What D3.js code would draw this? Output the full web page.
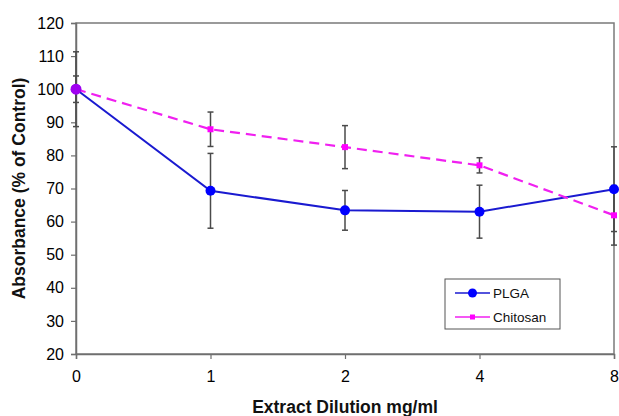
<!DOCTYPE html>
<html>
<head>
<meta charset="utf-8">
<script src="https://cdn.jsdelivr.net/npm/d3@7"></script>
<style>
  body { margin: 0; background: #fff; }
  svg { font-family: "Liberation Sans", Arial, sans-serif; }
</style>
</head>
<body>
<div id="chart"></div>
<script>
var doses = ["0", "1", "2", "4", "8"];
var plga = [100, 69.3, 63.4, 63.0, 69.8];
var plgaErr = [11.3, 11.3, 6.0, 8.0, 12.8];
var chitosan = [100, 87.9, 82.5, 77.0, 61.9];
var chitosanErr = [4.0, 5.2, 6.5, 2.3, 9.0];
var yTicks = [20, 30, 40, 50, 60, 70, 80, 90, 100, 110, 120];

var width = 619, height = 416;
var margin = {left: 76, top: 23, right: 5, bottom: 62};

var svg = d3.select("#chart").append("svg")
    .attr("width", width)
    .attr("height", height);

var x = d3.scalePoint()
    .domain(doses)
    .range([margin.left, width - margin.right]);

var y = d3.scaleLinear()
    .domain([20, 120])
    .range([height - margin.bottom, margin.top]);

// frame (top + right)
svg.append("rect")
    .attr("x", margin.left)
    .attr("y", margin.top)
    .attr("width", x("8") - margin.left)
    .attr("height", y(20) - margin.top)
    .attr("fill", "none")
    .attr("stroke", "#7a7a7a")
    .attr("stroke-width", 1.5);

var yAxis = svg.append("g")
    .attr("transform", "translate(" + margin.left + ",0)")
    .call(d3.axisLeft(y).tickValues(yTicks).tickSize(5).tickPadding(7));

var xAxis = svg.append("g")
    .attr("transform", "translate(0," + y(20) + ")")
    .call(d3.axisBottom(x).tickSize(5).tickPadding(12));

[yAxis, xAxis].forEach(function(ax) {
    ax.select(".domain").attr("stroke", "#6f6f6f").attr("stroke-width", 1.5);
    ax.selectAll(".tick line").attr("stroke", "#6f6f6f").attr("stroke-width", 1.2);
    ax.selectAll("text")
        .attr("fill", "#000")
        .style("font-size", "16px")
        .style("font-family", "Liberation Sans, Arial, sans-serif");
});

// axis titles
svg.append("text")
    .attr("x", 345)
    .attr("y", 413)
    .attr("text-anchor", "middle")
    .style("font-size", "17.5px")
    .style("font-weight", "bold")
    .attr("fill", "#111")
    .text("Extract Dilution mg/ml");

svg.append("text")
    .attr("transform", "translate(25," + ((y(20) + y(120)) / 2) + ") rotate(-90)")
    .attr("text-anchor", "middle")
    .style("font-size", "17.5px")
    .style("font-weight", "bold")
    .attr("fill", "#111")
    .text("Absorbance (% of Control)");

function errorBars(vals, errs) {
    var g = svg.append("g")
        .attr("stroke", "#4a4a4a")
        .attr("stroke-width", 1.5);
    doses.forEach(function(d, i) {
        var cx = x(d), lo = y(vals[i] - errs[i]), hi = y(vals[i] + errs[i]);
        g.append("line").attr("x1", cx).attr("x2", cx).attr("y1", lo).attr("y2", hi);
        g.append("line").attr("x1", cx - 3).attr("x2", cx + 3).attr("y1", lo).attr("y2", lo);
        g.append("line").attr("x1", cx - 3).attr("x2", cx + 3).attr("y1", hi).attr("y2", hi);
    });
}

errorBars(plga, plgaErr);
errorBars(chitosan, chitosanErr);

var line = d3.line()
    .x(function(d, i) { return x(doses[i]); })
    .y(function(d) { return y(d); });

svg.append("path")
    .datum(plga)
    .attr("d", line)
    .attr("fill", "none")
    .attr("stroke", "#1a1ad0")
    .attr("stroke-width", 2);

svg.append("path")
    .datum(chitosan)
    .attr("d", line)
    .attr("fill", "none")
    .attr("stroke", "#f020f0")
    .attr("stroke-width", 2.2)
    .attr("stroke-dasharray", "10,6");

svg.selectAll(".plga-pt")
    .data(plga)
    .enter().append("circle")
    .attr("class", "plga-pt")
    .attr("cx", function(d, i) { return x(doses[i]); })
    .attr("cy", function(d) { return y(d); })
    .attr("r", 5)
    .attr("fill", "#0000ff");

svg.selectAll(".chi-pt")
    .data(chitosan)
    .enter().append("rect")
    .attr("class", "chi-pt")
    .attr("x", function(d, i) { return x(doses[i]) - 3; })
    .attr("y", function(d) { return y(d) - 3; })
    .attr("width", 6)
    .attr("height", 6)
    .attr("fill", "#ff00ff");

// point at 0 looks purple where the two overlap
svg.append("circle")
    .attr("cx", x("0"))
    .attr("cy", y(100))
    .attr("r", 5.5)
    .attr("fill", "#a000f0");

// legend
var legend = svg.append("g").attr("transform", "translate(445,279)");
legend.append("rect")
    .attr("width", 115)
    .attr("height", 50)
    .attr("fill", "#fff")
    .attr("stroke", "#555")
    .attr("stroke-width", 1);

var items = [
    {name: "PLGA", color: "#1a1ad0", mark: "circle", dy: 14},
    {name: "Chitosan", color: "#f020f0", mark: "square", dy: 38}
];
items.forEach(function(it) {
    legend.append("line")
        .attr("x1", 10).attr("x2", 45)
        .attr("y1", it.dy).attr("y2", it.dy)
        .attr("stroke", it.color)
        .attr("stroke-width", 1.5);
    if (it.mark === "circle") {
        legend.append("circle").attr("cx", 27.5).attr("cy", it.dy).attr("r", 4.5).attr("fill", "#0000ff");
    } else {
        legend.append("rect").attr("x", 25).attr("y", it.dy - 2.5).attr("width", 5).attr("height", 5).attr("fill", "#ff00ff");
    }
    legend.append("text")
        .attr("x", 48)
        .attr("y", it.dy)
        .attr("dy", "0.35em")
        .style("font-size", "13.5px")
        .attr("fill", "#111")
        .text(it.name);
});
</script>
</body>
</html>
